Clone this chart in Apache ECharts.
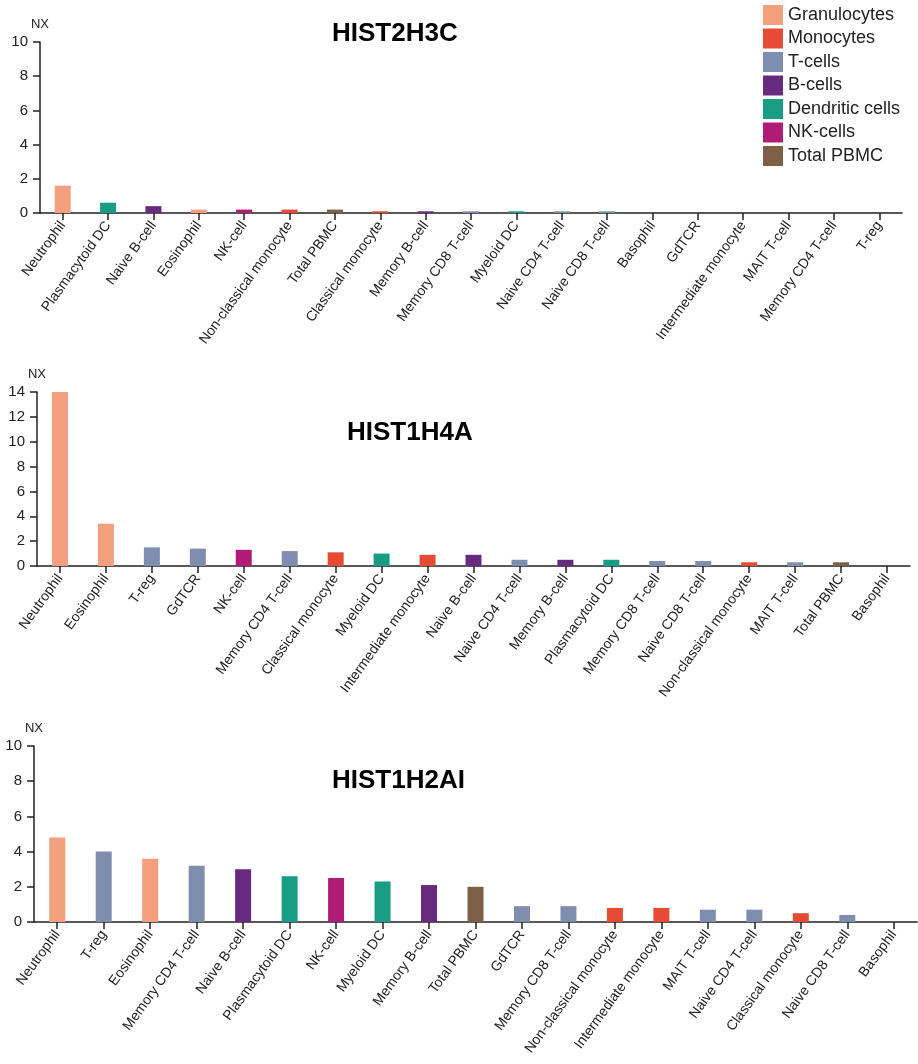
<!DOCTYPE html>
<html>
<head>
<meta charset="utf-8">
<script src="https://cdn.jsdelivr.net/npm/echarts@6/dist/echarts.min.js"></script>
<style>
html,body{margin:0;padding:0;background:#fff;}
#chart{width:918px;height:1064px;}
</style>
</head>
<body>
<div id="chart"></div>
<script>
// ---- data ----
const titles = ['HIST2H3C', 'HIST1H4A', 'HIST1H2AI'];

const cats1 = ['Neutrophil','Plasmacytoid DC','Naive B-cell','Eosinophil','NK-cell','Non-classical monocyte','Total PBMC','Classical monocyte','Memory B-cell','Memory CD8 T-cell','Myeloid DC','Naive CD4 T-cell','Naive CD8 T-cell','Basophil','GdTCR','Intermediate monocyte','MAIT T-cell','Memory CD4 T-cell','T-reg'];
const vals1 = [1.6,0.6,0.4,0.2,0.2,0.2,0.2,0.1,0.1,0.1,0.1,0.1,0.1,0,0,0,0,0,0];

const cats2 = ['Neutrophil','Eosinophil','T-reg','GdTCR','NK-cell','Memory CD4 T-cell','Classical monocyte','Myeloid DC','Intermediate monocyte','Naive B-cell','Naive CD4 T-cell','Memory B-cell','Plasmacytoid DC','Memory CD8 T-cell','Naive CD8 T-cell','Non-classical monocyte','MAIT T-cell','Total PBMC','Basophil'];
const vals2 = [14.0,3.4,1.5,1.4,1.3,1.2,1.1,1.0,0.9,0.9,0.5,0.5,0.5,0.4,0.4,0.3,0.3,0.3,0];

const cats3 = ['Neutrophil','T-reg','Eosinophil','Memory CD4 T-cell','Naive B-cell','Plasmacytoid DC','NK-cell','Myeloid DC','Memory B-cell','Total PBMC','GdTCR','Memory CD8 T-cell','Non-classical monocyte','Intermediate monocyte','MAIT T-cell','Naive CD4 T-cell','Classical monocyte','Naive CD8 T-cell','Basophil'];
const vals3 = [4.8,4.0,3.6,3.2,3.0,2.6,2.5,2.3,2.1,2.0,0.9,0.9,0.8,0.8,0.7,0.7,0.5,0.4,0];

const yMax = [10, 14, 10];

const groups = ['Granulocytes','Monocytes','T-cells','B-cells','Dendritic cells','NK-cells','Total PBMC'];
const groupColors = ['#F4A07F','#E64B35','#7F8EAF','#662A7E','#199C84','#B01C75','#7E5F47'];
const cellGroup = {
  'Neutrophil':'Granulocytes','Eosinophil':'Granulocytes','Basophil':'Granulocytes',
  'Classical monocyte':'Monocytes','Non-classical monocyte':'Monocytes','Intermediate monocyte':'Monocytes',
  'T-reg':'T-cells','GdTCR':'T-cells','MAIT T-cell':'T-cells','Memory CD4 T-cell':'T-cells','Memory CD8 T-cell':'T-cells','Naive CD4 T-cell':'T-cells','Naive CD8 T-cell':'T-cells',
  'Naive B-cell':'B-cells','Memory B-cell':'B-cells',
  'Plasmacytoid DC':'Dendritic cells','Myeloid DC':'Dendritic cells',
  'NK-cell':'NK-cells',
  'Total PBMC':'Total PBMC'
};

// ---- build ----
const FONT = '"Liberation Sans", Arial, Helvetica, sans-serif';
const allCats = [cats1, cats2, cats3];
const allVals = [vals1, vals2, vals3];
const grids = [
  {left: 40, width: 862, top: 42, height: 171},
  {left: 37, width: 873, top: 392, height: 174},
  {left: 34, width: 883, top: 746, height: 176}
];
const titlePos = [{left: 327, top: 16}, {left: 342, top: 415}, {left: 327, top: 763}];

const colorOf = c => groupColors[groups.indexOf(cellGroup[c])];

const axisLine = {show: true, lineStyle: {color: '#222', width: 1.5}};
const axisTick = {show: true, length: 7, lineStyle: {color: '#222', width: 1.5}};

const option = {
  animation: false,
  backgroundColor: '#fff',
  textStyle: {fontFamily: FONT},
  title: titles.map((t, i) => ({
    text: t, left: titlePos[i].left, top: titlePos[i].top,
    textStyle: {fontSize: 26, fontWeight: 'bold', color: '#000', fontFamily: FONT}
  })),
  legend: {
    orient: 'vertical', left: 763, top: 5, padding: 0,
    itemWidth: 20, itemHeight: 20, itemGap: 3.5,
    icon: 'rect', selectedMode: false,
    textStyle: {fontSize: 18, color: '#222', fontFamily: FONT},
    data: groups
  },
  grid: grids,
  xAxis: allCats.map((cats, i) => ({
    type: 'category', gridIndex: i, data: cats,
    axisLine: axisLine,
    axisTick: Object.assign({alignWithLabel: true}, axisTick),
    axisLabel: {rotate: 54, interval: 0, fontSize: 14, color: '#222', margin: 10, fontFamily: FONT}
  })),
  yAxis: yMax.map((m, i) => ({
    type: 'value', gridIndex: i, min: 0, max: m, interval: 2,
    name: 'NX', nameLocation: 'end', nameGap: 11,
    nameTextStyle: {fontSize: 13, color: '#222', fontFamily: FONT},
    splitLine: {show: false},
    axisLine: axisLine, axisTick: axisTick,
    axisLabel: {fontSize: 15, color: '#222', margin: 12, fontFamily: FONT}
  })),
  series: allVals.map((vals, i) => ({
    type: 'bar', xAxisIndex: i, yAxisIndex: i, barWidth: 16,
    data: vals.map((v, j) => ({value: v, itemStyle: {color: colorOf(allCats[i][j])}}))
  })).concat(groups.map((g, k) => ({
    type: 'line', name: g, xAxisIndex: 0, yAxisIndex: 0, data: [],
    itemStyle: {color: groupColors[k]}, lineStyle: {color: groupColors[k]}
  })))
};

const chart = echarts.init(document.getElementById('chart'), null, {renderer: 'canvas'});
chart.setOption(option);
</script>
</body>
</html>
